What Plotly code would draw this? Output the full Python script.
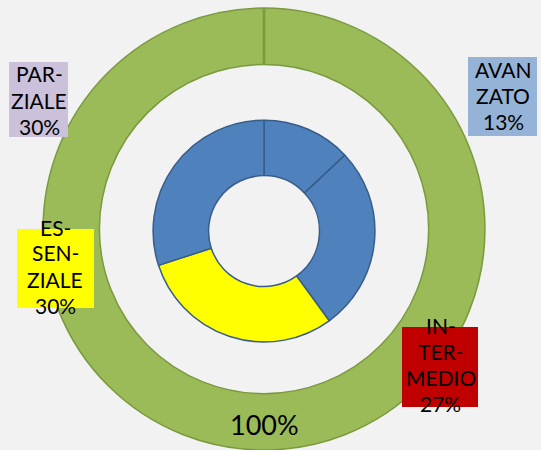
import plotly.graph_objects as go

# Livelli di competenza e relative percentuali
livelli = ["AVANZATO", "INTERMEDIO", "ESSENZIALE", "PARZIALE"]
percentuali = [13, 27, 30, 30]
colori_anello = ["#4F81BD", "#4F81BD", "#FFFF00", "#4F81BD"]

# Etichette esterne (testo spezzato su più righe) e colore del riquadro
etichette = [["AVAN", "ZATO"], ["IN-", "TER-", "MEDIO"], ["ES-", "SEN-", "ZIALE"], ["PAR-", "ZIALE"]]
colori_box = ["#95B3D7", "#C00000", "#FFFF00", "#CCC1DA"]

# Anello esterno: totale
totale = [100]

W, H = 541, 450
BG = "#F2F2F2"

fig = go.Figure()

# anello esterno (totale)
outer_dom = dict(x=[0.05, 0.926], y=[0.0, 0.982])
fig.add_trace(go.Pie(
    values=totale, labels=["Totale"], hole=0.745, sort=False,
    direction="clockwise", rotation=0,
    marker=dict(colors=["#9BBB59"], line=dict(color="#7A9A3E", width=1.5)),
    textinfo="none", hoverinfo="skip", showlegend=False,
    domain=outer_dom,
))

# anello interno (livelli)
fig.add_trace(go.Pie(
    values=percentuali, labels=livelli, hole=0.5, sort=False,
    direction="clockwise", rotation=0,
    marker=dict(colors=colori_anello, line=dict(color="#385D8A", width=1.5)),
    textinfo="none", showlegend=False,
    domain=dict(x=[0.2828, 0.6932], y=[0.24, 0.733]),
))

# linea di separazione dell'anello esterno (inizio della fetta a ore 12)
cx = (outer_dom["x"][0] + outer_dom["x"][1]) / 2 * W
r_out = (outer_dom["y"][1] - outer_dom["y"][0]) * H / 2
cy = H - (outer_dom["y"][0] + outer_dom["y"][1]) / 2 * H
fig.add_shape(type="line", xref="paper", yref="paper",
              x0=cx / W, x1=cx / W,
              y0=1 - (cy - r_out * 0.745) / H, y1=1 - (cy - r_out) / H,
              line=dict(color="#7A9A3E", width=2.5))

font = dict(family="Lato, 'Open Sans', sans-serif", size=21, color="black")
SPACING = 26

# riquadri (centro x, centro y, larghezza, altezza) e posizione del testo
box = {
    "AVANZATO": (502.5, 96.5, 69, 79),
    "INTERMEDIO": (440, 367, 76, 80),
    "ESSENZIALE": (55.5, 268.5, 77, 79),
    "PARZIALE": (38.5, 99.5, 59, 75),
}
testo = {  # centro x, centro y della prima riga
    "AVANZATO": (503, 69),
    "INTERMEDIO": (440.5, 325),
    "ESSENZIALE": (55, 227),
    "PARZIALE": (39, 74),
}
for lv, p, et, cb in zip(livelli, percentuali, etichette, colori_box):
    x, y, bw, bh = box[lv]
    fig.add_shape(type="rect", xref="paper", yref="paper",
                  x0=(x - bw / 2) / W, x1=(x + bw / 2) / W,
                  y0=1 - (y + bh / 2) / H, y1=1 - (y - bh / 2) / H,
                  fillcolor=cb, line=dict(width=0), layer="above")
    tx, ty = testo[lv]
    for i, riga in enumerate(et + [f"{p}%"]):
        fig.add_annotation(x=tx / W, y=1 - (ty + i * SPACING) / H,
                           xref="paper", yref="paper",
                           text=riga, showarrow=False, font=font,
                           xanchor="center", yanchor="middle")

fig.add_annotation(x=cx / W, y=1 - 424 / H, xref="paper", yref="paper",
                   text=f"{totale[0]}%", showarrow=False,
                   font=dict(family="Lato, 'Open Sans', sans-serif", size=27, color="black"),
                   xanchor="center", yanchor="middle")

fig.update_layout(width=W, height=H, margin=dict(l=0, r=0, t=0, b=0),
                  paper_bgcolor=BG, plot_bgcolor=BG)

fig.write_html("out.html")
